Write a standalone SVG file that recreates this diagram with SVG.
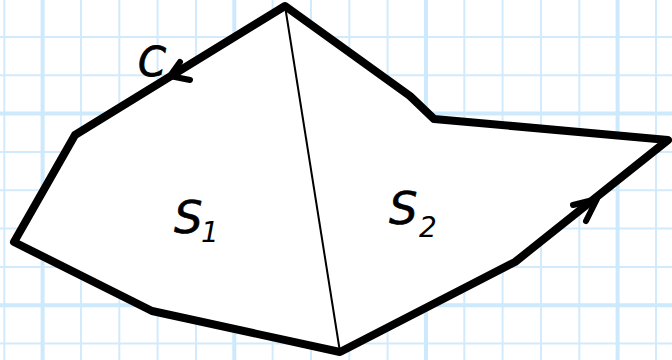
<svg xmlns="http://www.w3.org/2000/svg" width="672" height="360" viewBox="0 0 672 360">
<style>
.thin{stroke:#d2ebfc;stroke-width:2;fill:none}
.thick{stroke:#cde9fc;stroke-width:4;fill:none}
.edge{stroke:#000;stroke-width:8;stroke-linejoin:round;stroke-linecap:round}
.arrow{stroke:#000;stroke-width:6;fill:none;stroke-linecap:round;stroke-linejoin:round}
.lbl{font-family:"DejaVu Sans",sans-serif;font-style:italic;fill:#000}
</style>
<rect width="672" height="360" fill="#fff"/>
<g id="grid">
<path class="thin" d="M4.3 0V360M81 0V360M119.3 0V360M157.6 0V360M196 0V360M272.6 0V360M311 0V360M349.3 0V360M387.6 0V360M464.3 0V360M502.6 0V360M541 0V360M579.3 0V360M656 0V360M0 37H672M0 75.3H672M0 152H672M0 190.3H672M0 228.6H672M0 267H672M0 343.6H672"/>
<path class="thick" d="M42.6 0V360M234.3 0V360M426 0V360M617.6 0V360M0 113.6H672M0 305.3H672"/>
</g>
<g id="region">
<polygon class="edge" fill="#fff" points="285,6 75,135 14,242 152,311 340,352 515,262 668,140 434,119 410,96"/>
<line x1="285" y1="6" x2="340" y2="352" stroke="#000" stroke-width="2"/>
</g>
<g id="arrows">
<path class="arrow" d="M180 62L170 76L190 80"/>
<path class="arrow" d="M573 205L597 199L586 221"/>
</g>
<g id="labels">
<text class="lbl" x="138" y="76" font-size="40" stroke="#000" stroke-width="0.8">C</text>
<text class="lbl" x="174" y="233" font-size="45" stroke="#000" stroke-width="0.6">S</text>
<text class="lbl" x="201" y="242" font-size="28">1</text>
<text class="lbl" x="389" y="224" font-size="45" stroke="#000" stroke-width="0.6">S</text>
<text class="lbl" x="419" y="237" font-size="28">2</text>
</g>
</svg>
